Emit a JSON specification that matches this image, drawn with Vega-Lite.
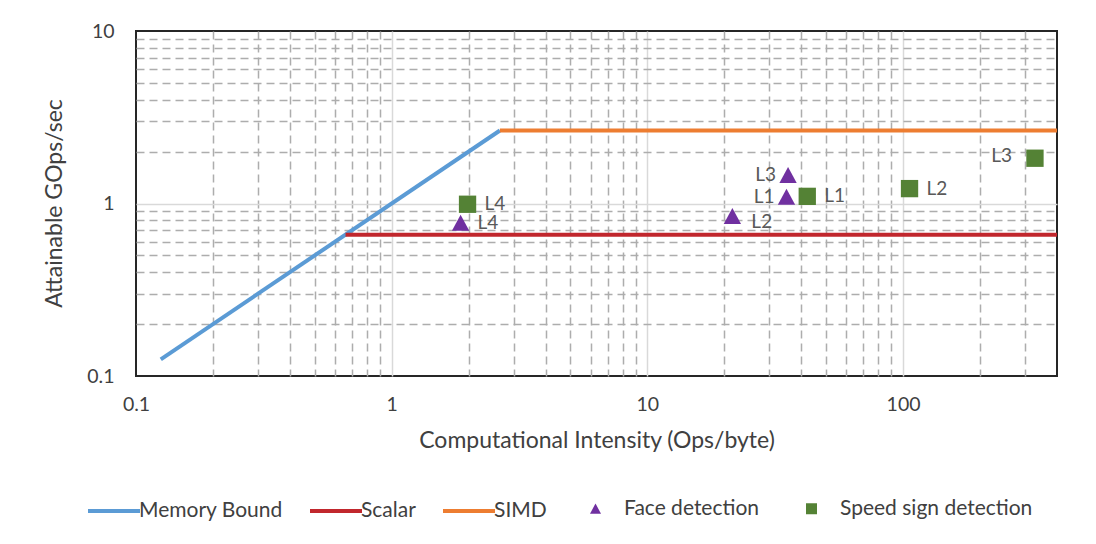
{
  "$schema": "https://vega.github.io/schema/vega-lite/v6.json",
  "width": 921,
  "height": 345,
  "autosize": {"type": "none"},
  "padding": {"left": 136, "top": 31, "right": 39, "bottom": 168},
  "background": "white",
  "config": {
    "font": "Lato",
    "view": {"stroke": "#262626", "strokeWidth": 2},
    "axis": {
      "labelFontSize": 19.5,
      "titleFontSize": 23,
      "labelColor": "#404040",
      "titleColor": "#404040",
      "titleFontWeight": "normal",
      "ticks": false,
      "domain": false,
      "grid": true,
      "gridWidth": 1.5
    }
  },
  "datasets": {
    "lines": [
      {"series": "Memory Bound", "x": 0.125, "y": 0.125},
      {"series": "Memory Bound", "x": 2.65, "y": 2.65},
      {"series": "Scalar", "x": 0.66, "y": 0.66},
      {"series": "Scalar", "x": 400, "y": 0.66},
      {"series": "SIMD", "x": 2.65, "y": 2.65},
      {"series": "SIMD", "x": 400, "y": 2.65}
    ],
    "points": [
      {"series": "Face detection", "label": "L4", "x": 1.86, "y": 0.77},
      {"series": "Face detection", "label": "L2", "x": 21.5, "y": 0.845},
      {"series": "Face detection", "label": "L1", "x": 35, "y": 1.09},
      {"series": "Face detection", "label": "L3", "x": 35.5, "y": 1.46},
      {"series": "Speed sign detection", "label": "L4", "x": 1.98, "y": 0.99},
      {"series": "Speed sign detection", "label": "L1", "x": 42.2, "y": 1.1},
      {"series": "Speed sign detection", "label": "L2", "x": 106, "y": 1.22},
      {"series": "Speed sign detection", "label": "L3", "x": 328, "y": 1.83}
    ]
  },
  "encoding": {
    "x": {
      "field": "x",
      "type": "quantitative",
      "scale": {"type": "log", "domain": [0.1, 400], "nice": false},
      "axis": {
        "title": "Computational Intensity (Ops/byte)",
        "values": [0.1, 0.2, 0.3, 0.4, 0.5, 0.6, 0.7, 0.8, 0.9, 1, 2, 3, 4, 5, 6, 7, 8, 9, 10, 20, 30, 40, 50, 60, 70, 80, 90, 100, 200, 300],
        "format": "~g",
        "labelExpr": "abs(log(datum.value)/LN10 - round(log(datum.value)/LN10)) < 0.001 ? datum.label : ''",
        "labelPadding": 19,
        "labelFlush": false,
        "titleY": 64,
        "titleBaseline": "middle",
        "gridColor": {"condition": {"test": "abs(log(datum.value)/LN10 - round(log(datum.value)/LN10)) < 0.001", "value": "#D9D9D9"}, "value": "#ADADAD"},
        "gridDash": {"condition": {"test": "abs(log(datum.value)/LN10 - round(log(datum.value)/LN10)) < 0.001", "value": []}, "value": [8, 5]},
        "gridOpacity": {"condition": {"test": "datum.value <= 0.1001", "value": 0}, "value": 1}
      }
    },
    "y": {
      "field": "y",
      "type": "quantitative",
      "scale": {"type": "log", "domain": [0.1, 10], "nice": false},
      "axis": {
        "title": "Attainable GOps/sec",
        "values": [0.1, 0.2, 0.3, 0.4, 0.5, 0.6, 0.7, 0.8, 0.9, 1, 2, 3, 4, 5, 6, 7, 8, 9, 10],
        "format": "~g",
        "labelExpr": "abs(log(datum.value)/LN10 - round(log(datum.value)/LN10)) < 0.001 ? datum.label : ''",
        "labelPadding": 22,
        "labelFlush": false,
        "titleX": -82,
        "titleY": 172,
        "titleBaseline": "middle",
        "gridColor": {"condition": {"test": "abs(log(datum.value)/LN10 - round(log(datum.value)/LN10)) < 0.001", "value": "#D9D9D9"}, "value": "#ADADAD"},
        "gridDash": {"condition": {"test": "abs(log(datum.value)/LN10 - round(log(datum.value)/LN10)) < 0.001", "value": []}, "value": [8, 5]},
        "gridOpacity": {"condition": {"test": "datum.value <= 0.1001 || datum.value >= 9.99", "value": 0}, "value": 1}
      }
    }
  },
  "layer": [
    {
      "data": {"name": "lines"},
      "mark": {"type": "line", "strokeWidth": 4, "clip": true},
      "encoding": {
        "detail": {"field": "series"},
        "color": {
          "field": "series",
          "type": "nominal",
          "scale": {"domain": ["Memory Bound", "Scalar", "SIMD"], "range": ["#5B9BD5", "#C1272D", "#ED7D31"]},
          "legend": {
            "orient": "none",
            "legendX": -50,
            "legendY": 452,
            "direction": "horizontal",
            "title": null,
            "symbolType": "stroke",
            "symbolStrokeWidth": 4,
            "symbolSize": 2704,
            "labelFontSize": 21,
            "labelColor": "#404040",
            "labelOffset": -3,
            "columnPadding": 19,
            "labelLimit": 400
          }
        }
      }
    },
    {
      "data": {"name": "points"},
      "mark": {"type": "point", "filled": true, "size": 300, "opacity": 1},
      "encoding": {
        "fill": {
          "field": "series",
          "type": "nominal",
          "scale": {"domain": ["Face detection", "Speed sign detection"], "range": ["#7030A0", "#548235"]},
          "legend": {
            "orient": "none",
            "legendX": 449,
            "legendY": 467,
            "direction": "horizontal",
            "title": null,
            "symbolSize": 121,
            "labelFontSize": 21,
            "labelColor": "#404040",
            "labelOffset": 18,
            "columnPadding": 41,
            "labelLimit": 400
          }
        },
        "shape": {
          "field": "series",
          "type": "nominal",
          "scale": {"domain": ["Face detection", "Speed sign detection"], "range": ["M0,-0.95L1,0.9L-1,0.9Z", "square"]},
          "legend": {
            "orient": "none",
            "legendX": 449,
            "legendY": 467,
            "direction": "horizontal",
            "title": null,
            "symbolSize": 121,
            "labelFontSize": 21,
            "labelColor": "#404040",
            "labelOffset": 18,
            "columnPadding": 41,
            "labelLimit": 400
          }
        }
      }
    },
    {
      "data": {"name": "points"},
      "transform": [{"filter": "!(datum.series == 'Face detection' && (datum.label == 'L1' || datum.label == 'L3' || datum.label == 'L2')) && !(datum.series == 'Speed sign detection' && datum.label == 'L3')"}],
      "mark": {"type": "text", "align": "left", "baseline": "middle", "dx": 17, "fontSize": 19, "color": "#595959"},
      "encoding": {"text": {"field": "label"}}
    },
    {
      "data": {"name": "points"},
      "transform": [{"filter": "datum.series == 'Face detection' && datum.label == 'L2'"}],
      "mark": {"type": "text", "align": "left", "baseline": "middle", "dx": 19, "dy": 6, "fontSize": 19, "color": "#595959"},
      "encoding": {"text": {"field": "label"}}
    },
    {
      "data": {"name": "points"},
      "transform": [{"filter": "datum.series == 'Face detection' && (datum.label == 'L1' || datum.label == 'L3')"}],
      "mark": {"type": "text", "align": "right", "baseline": "middle", "dx": -12, "fontSize": 19, "color": "#595959"},
      "encoding": {"text": {"field": "label"}}
    },
    {
      "data": {"name": "points"},
      "transform": [{"filter": "datum.series == 'Speed sign detection' && datum.label == 'L3'"}],
      "mark": {"type": "text", "align": "right", "baseline": "middle", "dx": -23, "dy": -2, "fontSize": 19, "color": "#595959"},
      "encoding": {"text": {"field": "label"}}
    }
  ]
}
